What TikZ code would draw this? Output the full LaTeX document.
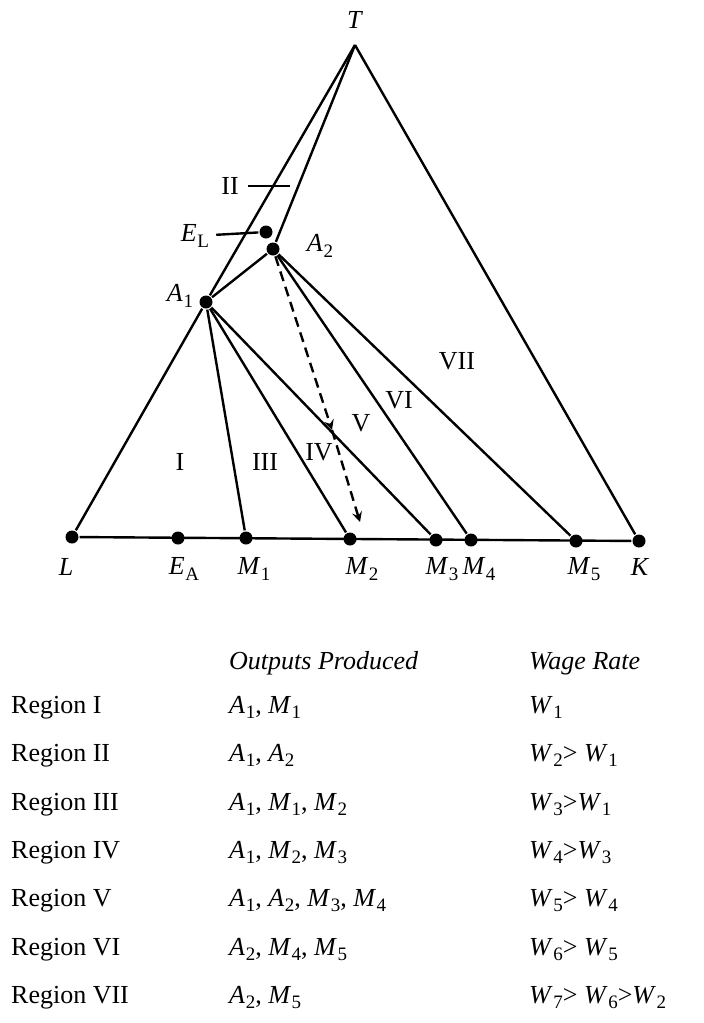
\documentclass[tikz,border=0pt]{standalone}
\usepackage{fontspec}
\setmainfont{Liberation Serif}
\usepackage{tikz}
\usetikzlibrary{arrows,positioning,calc}
\newcommand{\sym}[2]{\textit{#1}\kern0.3pt\raisebox{-0.45ex}{\fontsize{9.5}{10}\selectfont #2}}

\begin{document}
\begin{tikzpicture}[x=0.5pt,y=-0.5pt,line width=1.2pt,
  every node/.style={font=\fontsize{13}{15}\selectfont,inner sep=0pt},
  dot/.style={circle,fill=black,minimum size=6.5pt},
  cell/.style={anchor=base west},
  arrow/.style={->,>=stealth,dashed,dash pattern=on 5pt off 3pt}]
\useasboundingbox (0,0) rectangle (704,1023);
% points of the triangle
\coordinate (t) at (355,45);
\node[dot] (l) at (72,537) {};
\node[dot] (k) at (639,541) {};
\node[dot] (ea) at (178,538) {};
\node[dot] (m1) at (246,538) {};
\node[dot] (m2) at (350,539) {};
\node[dot] (m3) at (436,540) {};
\node[dot] (m4) at (471,540) {};
\node[dot] (m5) at (576,541) {};
\node[dot] (a1) at (206,302) {};
\node[dot] (a2) at (273,249) {};
\node[dot] (el) at (266,232) {};
\draw (l)--(a1)--(t); \draw (t)--(k); \draw (l)--(k); \draw (t)--(a2);
\draw (a1)--(a2); \draw (a1)--(m1); \draw (a1)--(m2); \draw (a1)--(m3);
\draw (a2)--(m4); \draw (a2)--(m5);
\coordinate (dmid) at (332,430); \coordinate (dtip) at (360,522);
\draw[arrow] (a2)--(dmid); \draw[arrow] (dmid)--(dtip);
% point labels
\node (tlab) at (355,20) {\textit{T}};
\node (a1lab) at (180,296) {\sym{A}{1}};
\node (a2lab) at (320,246) {\sym{A}{2}};
\node (ellab) at (195,236) {\sym{E}{L}};
\draw[shorten <=3pt] (ellab) -- (el);
\node (iilab) at (230,186) {II};
\coordinate (iiend) at (290,186);
\draw[shorten <=4pt] (iilab) -- (iiend);
\node (llab) at (66,567) {\textit{L}};
\node (ealab) at (184,569) {\sym{E}{A}};
\node (m1lab) at (254,569) {\sym{M}{1}};
\node (m2lab) at (362,569) {\sym{M}{2}};
\node (m3lab) at (442,569) {\sym{M}{3}};
\node (m4lab) at (479,569) {\sym{M}{4}};
\node (m5lab) at (584,569) {\sym{M}{5}};
\node (klab) at (640,567) {\textit{K}};
% regions
\node (ri) at (180,462) {I};
\node (riii) at (265,462) {III};
\node (riv) at (319,452) {IV};
\node (rv) at (361,423) {V};
\node (rvi) at (399,400) {VI};
\node (rvii) at (457,361) {VII};
% table
\node[cell] (hout) at (228,669) {\itshape Outputs Produced};
\node[cell] (hwage) at (528,669) {\itshape Wage Rate};
\node[cell] (g1) at (10,713) {Region I};
\node[cell] (o1) at (228,713) {\sym{A}{1}, \sym{M}{1}};
\node[cell] (w1) at (528,713) {\sym{W}{1}};
\node[cell] (g2) at (10,761) {Region II};
\node[cell] (o2) at (228,761) {\sym{A}{1}, \sym{A}{2}};
\node[cell] (w2) at (528,761) {\sym{W}{2}> \sym{W}{1}};
\node[cell] (g3) at (10,810) {Region III};
\node[cell] (o3) at (228,810) {\sym{A}{1}, \sym{M}{1}, \sym{M}{2}};
\node[cell] (w3) at (528,810) {\sym{W}{3}>\sym{W}{1}};
\node[cell] (g4) at (10,858) {Region IV};
\node[cell] (o4) at (228,858) {\sym{A}{1}, \sym{M}{2}, \sym{M}{3}};
\node[cell] (w4) at (528,858) {\sym{W}{4}>\sym{W}{3}};
\node[cell] (g5) at (10,906) {Region V};
\node[cell] (o5) at (228,906) {\sym{A}{1}, \sym{A}{2}, \sym{M}{3}, \sym{M}{4}};
\node[cell] (w5) at (528,906) {\sym{W}{5}> \sym{W}{4}};
\node[cell] (g6) at (10,955) {Region VI};
\node[cell] (o6) at (228,955) {\sym{A}{2}, \sym{M}{4}, \sym{M}{5}};
\node[cell] (w6) at (528,955) {\sym{W}{6}> \sym{W}{5}};
\node[cell] (g7) at (10,1003) {Region VII};
\node[cell] (o7) at (228,1003) {\sym{A}{2}, \sym{M}{5}};
\node[cell] (w7) at (528,1003) {\sym{W}{7}> \sym{W}{6}>\sym{W}{2}};
\end{tikzpicture}
\end{document}
